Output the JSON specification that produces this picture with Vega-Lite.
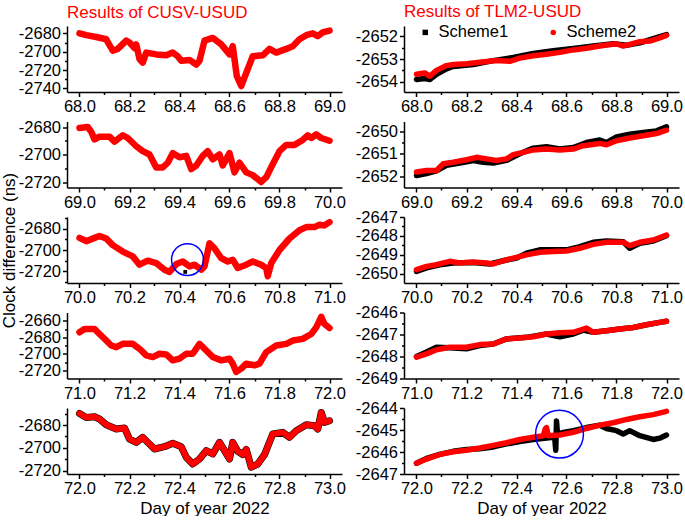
{
"$schema":"https://vega.github.io/schema/vega-lite/v6.json",
"padding":{"left":0,"top":3,"right":0,"bottom":0},
"datasets":{
"L1":[{"d":68.0,"v":-2680},{"d":68.027,"v":-2682},{"d":68.067,"v":-2684},{"d":68.107,"v":-2686.5},{"d":68.133,"v":-2699},{"d":68.153,"v":-2697},{"d":68.187,"v":-2688},{"d":68.2,"v":-2690},{"d":68.22,"v":-2696},{"d":68.227,"v":-2692},{"d":68.24,"v":-2708},{"d":68.253,"v":-2712},{"d":68.267,"v":-2701},{"d":68.307,"v":-2703},{"d":68.347,"v":-2704},{"d":68.373,"v":-2701},{"d":68.393,"v":-2705},{"d":68.407,"v":-2710},{"d":68.44,"v":-2709},{"d":68.467,"v":-2714},{"d":68.48,"v":-2710},{"d":68.5,"v":-2688},{"d":68.533,"v":-2685},{"d":68.567,"v":-2692},{"d":68.6,"v":-2703},{"d":68.613,"v":-2694},{"d":68.629,"v":-2726.5},{"d":68.647,"v":-2737.5},{"d":68.66,"v":-2728},{"d":68.693,"v":-2705},{"d":68.733,"v":-2704},{"d":68.76,"v":-2697},{"d":68.787,"v":-2701},{"d":68.827,"v":-2697},{"d":68.853,"v":-2694},{"d":68.88,"v":-2686.5},{"d":68.907,"v":-2682},{"d":68.933,"v":-2680},{"d":68.953,"v":-2683},{"d":68.973,"v":-2679},{"d":69.0,"v":-2677}],
"L2":[{"d":69.0,"v":-2680.7},{"d":69.033,"v":-2680},{"d":69.047,"v":-2683.5},{"d":69.06,"v":-2689},{"d":69.08,"v":-2687},{"d":69.12,"v":-2687},{"d":69.14,"v":-2690.6},{"d":69.173,"v":-2686},{"d":69.193,"v":-2688},{"d":69.227,"v":-2694},{"d":69.253,"v":-2697.6},{"d":69.28,"v":-2700},{"d":69.307,"v":-2709.4},{"d":69.333,"v":-2709.4},{"d":69.353,"v":-2706},{"d":69.373,"v":-2699},{"d":69.4,"v":-2702},{"d":69.427,"v":-2701},{"d":69.447,"v":-2710.6},{"d":69.467,"v":-2708},{"d":69.493,"v":-2701},{"d":69.513,"v":-2697.6},{"d":69.533,"v":-2703.5},{"d":69.56,"v":-2700},{"d":69.573,"v":-2708},{"d":69.6,"v":-2699},{"d":69.62,"v":-2713},{"d":69.64,"v":-2706},{"d":69.667,"v":-2713},{"d":69.693,"v":-2715},{"d":69.727,"v":-2720},{"d":69.747,"v":-2716.5},{"d":69.773,"v":-2707},{"d":69.8,"v":-2697.6},{"d":69.827,"v":-2693},{"d":69.86,"v":-2693},{"d":69.893,"v":-2689.4},{"d":69.913,"v":-2686},{"d":69.927,"v":-2688},{"d":69.947,"v":-2685.4},{"d":69.967,"v":-2688},{"d":70.0,"v":-2690}],
"L3":[{"d":70.0,"v":-2688.6},{"d":70.027,"v":-2691.7},{"d":70.06,"v":-2688.6},{"d":70.08,"v":-2686.8},{"d":70.107,"v":-2689.2},{"d":70.133,"v":-2695.4},{"d":70.173,"v":-2701.5},{"d":70.213,"v":-2706},{"d":70.24,"v":-2713.8},{"d":70.273,"v":-2710},{"d":70.307,"v":-2712.3},{"d":70.34,"v":-2718.5},{"d":70.36,"v":-2720.6},{"d":70.387,"v":-2713.2},{"d":70.413,"v":-2710.8},{"d":70.44,"v":-2715.4},{"d":70.46,"v":-2713.8},{"d":70.487,"v":-2718.5},{"d":70.5,"v":-2715.4},{"d":70.52,"v":-2693.8},{"d":70.54,"v":-2698.5},{"d":70.567,"v":-2707.7},{"d":70.593,"v":-2710.8},{"d":70.613,"v":-2709.2},{"d":70.633,"v":-2716.9},{"d":70.667,"v":-2713.8},{"d":70.693,"v":-2710.8},{"d":70.727,"v":-2713.8},{"d":70.747,"v":-2717},{"d":70.753,"v":-2724.6},{"d":70.767,"v":-2712.3},{"d":70.8,"v":-2700},{"d":70.84,"v":-2689.2},{"d":70.88,"v":-2681.5},{"d":70.907,"v":-2678.5},{"d":70.94,"v":-2678.5},{"d":70.96,"v":-2676.3},{"d":70.98,"v":-2676.9},{"d":71.0,"v":-2673.8}],
"L4":[{"d":71.0,"v":-2674},{"d":71.02,"v":-2670},{"d":71.06,"v":-2670},{"d":71.08,"v":-2676},{"d":71.107,"v":-2684},{"d":71.127,"v":-2690},{"d":71.147,"v":-2692},{"d":71.173,"v":-2688},{"d":71.213,"v":-2688},{"d":71.24,"v":-2694},{"d":71.267,"v":-2702},{"d":71.293,"v":-2704},{"d":71.32,"v":-2700},{"d":71.347,"v":-2700.8},{"d":71.373,"v":-2708},{"d":71.4,"v":-2706},{"d":71.427,"v":-2700},{"d":71.453,"v":-2700},{"d":71.48,"v":-2688},{"d":71.5,"v":-2694},{"d":71.533,"v":-2704},{"d":71.567,"v":-2708},{"d":71.6,"v":-2706},{"d":71.613,"v":-2712},{"d":71.627,"v":-2722},{"d":71.647,"v":-2718},{"d":71.667,"v":-2712},{"d":71.7,"v":-2714},{"d":71.72,"v":-2712},{"d":71.747,"v":-2698},{"d":71.787,"v":-2690},{"d":71.827,"v":-2688},{"d":71.853,"v":-2684},{"d":71.893,"v":-2682},{"d":71.927,"v":-2676},{"d":71.947,"v":-2668},{"d":71.967,"v":-2655.2},{"d":71.98,"v":-2664},{"d":72.0,"v":-2668.8}],
"L5":[{"d":72.0,"v":-2669.8},{"d":72.027,"v":-2673.3},{"d":72.06,"v":-2672.7},{"d":72.08,"v":-2674.7},{"d":72.107,"v":-2679.7},{"d":72.147,"v":-2683.5},{"d":72.18,"v":-2682.6},{"d":72.2,"v":-2692.3},{"d":72.227,"v":-2695.2},{"d":72.253,"v":-2690.8},{"d":72.273,"v":-2695.2},{"d":72.3,"v":-2701},{"d":72.34,"v":-2699},{"d":72.373,"v":-2696},{"d":72.407,"v":-2699},{"d":72.427,"v":-2708.3},{"d":72.453,"v":-2714.2},{"d":72.48,"v":-2709.8},{"d":72.507,"v":-2702.5},{"d":72.533,"v":-2705.4},{"d":72.56,"v":-2695.2},{"d":72.58,"v":-2702.5},{"d":72.6,"v":-2709.8},{"d":72.613,"v":-2695.2},{"d":72.633,"v":-2703},{"d":72.653,"v":-2705.9},{"d":72.667,"v":-2701.5},{"d":72.687,"v":-2717},{"d":72.713,"v":-2714.2},{"d":72.74,"v":-2706},{"d":72.773,"v":-2687.9},{"d":72.813,"v":-2686.4},{"d":72.84,"v":-2690.8},{"d":72.867,"v":-2685},{"d":72.907,"v":-2679.7},{"d":72.94,"v":-2680.6},{"d":72.953,"v":-2683.5},{"d":72.967,"v":-2668.9},{"d":72.98,"v":-2677.7},{"d":73.0,"v":-2676.2}],
"R1":[{"s":"Scheme1","d":68.0,"v":-2653.9},{"s":"Scheme1","d":68.033,"v":-2653.86},{"s":"Scheme1","d":68.053,"v":-2653.9},{"s":"Scheme1","d":68.08,"v":-2653.67},{"s":"Scheme1","d":68.12,"v":-2653.43},{"s":"Scheme1","d":68.147,"v":-2653.33},{"s":"Scheme1","d":68.227,"v":-2653.24},{"s":"Scheme1","d":68.307,"v":-2653.07},{"s":"Scheme1","d":68.387,"v":-2652.93},{"s":"Scheme1","d":68.467,"v":-2652.76},{"s":"Scheme1","d":68.547,"v":-2652.64},{"s":"Scheme1","d":68.627,"v":-2652.54},{"s":"Scheme1","d":68.707,"v":-2652.43},{"s":"Scheme1","d":68.787,"v":-2652.33},{"s":"Scheme1","d":68.84,"v":-2652.4},{"s":"Scheme1","d":68.893,"v":-2652.29},{"s":"Scheme1","d":68.947,"v":-2652.11},{"s":"Scheme1","d":69.0,"v":-2651.93},
{"s":"Scheme2","d":68.0,"v":-2653.67},{"s":"Scheme2","d":68.033,"v":-2653.61},{"s":"Scheme2","d":68.053,"v":-2653.76},{"s":"Scheme2","d":68.08,"v":-2653.5},{"s":"Scheme2","d":68.12,"v":-2653.29},{"s":"Scheme2","d":68.147,"v":-2653.24},{"s":"Scheme2","d":68.2,"v":-2653.21},{"s":"Scheme2","d":68.253,"v":-2653.14},{"s":"Scheme2","d":68.32,"v":-2653.07},{"s":"Scheme2","d":68.373,"v":-2653.1},{"s":"Scheme2","d":68.413,"v":-2652.96},{"s":"Scheme2","d":68.467,"v":-2652.86},{"s":"Scheme2","d":68.52,"v":-2652.79},{"s":"Scheme2","d":68.573,"v":-2652.71},{"s":"Scheme2","d":68.627,"v":-2652.6},{"s":"Scheme2","d":68.68,"v":-2652.53},{"s":"Scheme2","d":68.733,"v":-2652.43},{"s":"Scheme2","d":68.8,"v":-2652.33},{"s":"Scheme2","d":68.827,"v":-2652.43},{"s":"Scheme2","d":68.853,"v":-2652.36},{"s":"Scheme2","d":68.893,"v":-2652.24},{"s":"Scheme2","d":68.933,"v":-2652.21},{"s":"Scheme2","d":68.973,"v":-2652.07},{"s":"Scheme2","d":69.0,"v":-2651.96}],
"R2":[{"s":"Scheme1","d":69.0,"v":-2651.96},{"s":"Scheme1","d":69.04,"v":-2651.88},{"s":"Scheme1","d":69.08,"v":-2651.76},{"s":"Scheme1","d":69.12,"v":-2651.51},{"s":"Scheme1","d":69.173,"v":-2651.41},{"s":"Scheme1","d":69.227,"v":-2651.29},{"s":"Scheme1","d":69.267,"v":-2651.37},{"s":"Scheme1","d":69.307,"v":-2651.41},{"s":"Scheme1","d":69.36,"v":-2651.29},{"s":"Scheme1","d":69.413,"v":-2650.99},{"s":"Scheme1","d":69.467,"v":-2650.74},{"s":"Scheme1","d":69.52,"v":-2650.68},{"s":"Scheme1","d":69.573,"v":-2650.78},{"s":"Scheme1","d":69.627,"v":-2650.71},{"s":"Scheme1","d":69.68,"v":-2650.49},{"s":"Scheme1","d":69.733,"v":-2650.38},{"s":"Scheme1","d":69.76,"v":-2650.49},{"s":"Scheme1","d":69.8,"v":-2650.24},{"s":"Scheme1","d":69.853,"v":-2650.12},{"s":"Scheme1","d":69.907,"v":-2650.04},{"s":"Scheme1","d":69.96,"v":-2649.97},{"s":"Scheme1","d":70.0,"v":-2649.79},
{"s":"Scheme2","d":69.0,"v":-2651.81},{"s":"Scheme2","d":69.04,"v":-2651.74},{"s":"Scheme2","d":69.08,"v":-2651.74},{"s":"Scheme2","d":69.107,"v":-2651.44},{"s":"Scheme2","d":69.147,"v":-2651.37},{"s":"Scheme2","d":69.2,"v":-2651.26},{"s":"Scheme2","d":69.24,"v":-2651.15},{"s":"Scheme2","d":69.28,"v":-2651.22},{"s":"Scheme2","d":69.32,"v":-2651.29},{"s":"Scheme2","d":69.36,"v":-2651.22},{"s":"Scheme2","d":69.387,"v":-2651.03},{"s":"Scheme2","d":69.427,"v":-2650.93},{"s":"Scheme2","d":69.467,"v":-2650.82},{"s":"Scheme2","d":69.52,"v":-2650.78},{"s":"Scheme2","d":69.573,"v":-2650.82},{"s":"Scheme2","d":69.627,"v":-2650.78},{"s":"Scheme2","d":69.667,"v":-2650.63},{"s":"Scheme2","d":69.733,"v":-2650.53},{"s":"Scheme2","d":69.76,"v":-2650.59},{"s":"Scheme2","d":69.8,"v":-2650.41},{"s":"Scheme2","d":69.853,"v":-2650.29},{"s":"Scheme2","d":69.907,"v":-2650.19},{"s":"Scheme2","d":69.96,"v":-2650.09},{"s":"Scheme2","d":70.0,"v":-2649.94}],
"R3":[{"s":"Scheme1","d":70.0,"v":-2649.88},{"s":"Scheme1","d":70.04,"v":-2649.7},{"s":"Scheme1","d":70.093,"v":-2649.53},{"s":"Scheme1","d":70.147,"v":-2649.44},{"s":"Scheme1","d":70.227,"v":-2649.41},{"s":"Scheme1","d":70.293,"v":-2649.49},{"s":"Scheme1","d":70.347,"v":-2649.32},{"s":"Scheme1","d":70.4,"v":-2649.18},{"s":"Scheme1","d":70.44,"v":-2648.92},{"s":"Scheme1","d":70.493,"v":-2648.74},{"s":"Scheme1","d":70.547,"v":-2648.74},{"s":"Scheme1","d":70.6,"v":-2648.74},{"s":"Scheme1","d":70.653,"v":-2648.57},{"s":"Scheme1","d":70.707,"v":-2648.34},{"s":"Scheme1","d":70.76,"v":-2648.27},{"s":"Scheme1","d":70.827,"v":-2648.31},{"s":"Scheme1","d":70.853,"v":-2648.66},{"s":"Scheme1","d":70.893,"v":-2648.4},{"s":"Scheme1","d":70.947,"v":-2648.27},{"s":"Scheme1","d":71.0,"v":-2647.99},
{"s":"Scheme2","d":70.0,"v":-2649.79},{"s":"Scheme2","d":70.04,"v":-2649.62},{"s":"Scheme2","d":70.08,"v":-2649.53},{"s":"Scheme2","d":70.133,"v":-2649.35},{"s":"Scheme2","d":70.173,"v":-2649.44},{"s":"Scheme2","d":70.227,"v":-2649.39},{"s":"Scheme2","d":70.28,"v":-2649.44},{"s":"Scheme2","d":70.307,"v":-2649.49},{"s":"Scheme2","d":70.347,"v":-2649.32},{"s":"Scheme2","d":70.387,"v":-2649.18},{"s":"Scheme2","d":70.44,"v":-2649.01},{"s":"Scheme2","d":70.493,"v":-2648.87},{"s":"Scheme2","d":70.547,"v":-2648.83},{"s":"Scheme2","d":70.6,"v":-2648.8},{"s":"Scheme2","d":70.653,"v":-2648.66},{"s":"Scheme2","d":70.707,"v":-2648.45},{"s":"Scheme2","d":70.76,"v":-2648.34},{"s":"Scheme2","d":70.827,"v":-2648.34},{"s":"Scheme2","d":70.853,"v":-2648.52},{"s":"Scheme2","d":70.893,"v":-2648.34},{"s":"Scheme2","d":70.947,"v":-2648.22},{"s":"Scheme2","d":71.0,"v":-2647.96}],
"R4":[{"s":"Scheme1","d":71.0,"v":-2648.0},{"s":"Scheme1","d":71.04,"v":-2647.8},{"s":"Scheme1","d":71.08,"v":-2647.58},{"s":"Scheme1","d":71.133,"v":-2647.6},{"s":"Scheme1","d":71.2,"v":-2647.65},{"s":"Scheme1","d":71.253,"v":-2647.5},{"s":"Scheme1","d":71.307,"v":-2647.43},{"s":"Scheme1","d":71.36,"v":-2647.2},{"s":"Scheme1","d":71.44,"v":-2647.13},{"s":"Scheme1","d":71.52,"v":-2646.98},{"s":"Scheme1","d":71.573,"v":-2647.1},{"s":"Scheme1","d":71.627,"v":-2646.98},{"s":"Scheme1","d":71.667,"v":-2646.8},{"s":"Scheme1","d":71.707,"v":-2646.9},{"s":"Scheme1","d":71.76,"v":-2646.83},{"s":"Scheme1","d":71.813,"v":-2646.75},{"s":"Scheme1","d":71.867,"v":-2646.68},{"s":"Scheme1","d":71.92,"v":-2646.56},{"s":"Scheme1","d":71.973,"v":-2646.45},{"s":"Scheme1","d":72.0,"v":-2646.4},
{"s":"Scheme2","d":71.0,"v":-2648.03},{"s":"Scheme2","d":71.04,"v":-2647.88},{"s":"Scheme2","d":71.08,"v":-2647.69},{"s":"Scheme2","d":71.133,"v":-2647.58},{"s":"Scheme2","d":71.2,"v":-2647.58},{"s":"Scheme2","d":71.253,"v":-2647.46},{"s":"Scheme2","d":71.307,"v":-2647.43},{"s":"Scheme2","d":71.36,"v":-2647.2},{"s":"Scheme2","d":71.413,"v":-2647.16},{"s":"Scheme2","d":71.467,"v":-2647.1},{"s":"Scheme2","d":71.52,"v":-2646.98},{"s":"Scheme2","d":71.573,"v":-2646.92},{"s":"Scheme2","d":71.627,"v":-2646.9},{"s":"Scheme2","d":71.68,"v":-2646.71},{"s":"Scheme2","d":71.707,"v":-2646.9},{"s":"Scheme2","d":71.76,"v":-2646.83},{"s":"Scheme2","d":71.813,"v":-2646.75},{"s":"Scheme2","d":71.867,"v":-2646.68},{"s":"Scheme2","d":71.92,"v":-2646.56},{"s":"Scheme2","d":71.973,"v":-2646.45},{"s":"Scheme2","d":72.0,"v":-2646.4}],
"R5":[{"s":"Scheme1","d":72.0,"v":-2646.51},{"s":"Scheme1","d":72.04,"v":-2646.29},{"s":"Scheme1","d":72.093,"v":-2646.11},{"s":"Scheme1","d":72.147,"v":-2645.97},{"s":"Scheme1","d":72.2,"v":-2645.89},{"s":"Scheme1","d":72.253,"v":-2645.85},{"s":"Scheme1","d":72.307,"v":-2645.77},{"s":"Scheme1","d":72.36,"v":-2645.63},{"s":"Scheme1","d":72.413,"v":-2645.52},{"s":"Scheme1","d":72.467,"v":-2645.43},{"s":"Scheme1","d":72.547,"v":-2645.33},{"s":"Scheme1","d":72.553,"v":-2645.38},{"s":"Scheme1","d":72.557,"v":-2645.92},{"s":"Scheme1","d":72.56,"v":-2644.59},{"s":"Scheme1","d":72.564,"v":-2645.2},{"s":"Scheme1","d":72.587,"v":-2645.11},{"s":"Scheme1","d":72.627,"v":-2645.03},{"s":"Scheme1","d":72.68,"v":-2644.89},{"s":"Scheme1","d":72.733,"v":-2644.78},{"s":"Scheme1","d":72.76,"v":-2644.93},{"s":"Scheme1","d":72.8,"v":-2645.03},{"s":"Scheme1","d":72.827,"v":-2645.18},{"s":"Scheme1","d":72.853,"v":-2645.03},{"s":"Scheme1","d":72.893,"v":-2645.26},{"s":"Scheme1","d":72.947,"v":-2645.43},{"s":"Scheme1","d":72.973,"v":-2645.37},{"s":"Scheme1","d":73.0,"v":-2645.23},
{"s":"Scheme2","d":72.0,"v":-2646.51},{"s":"Scheme2","d":72.04,"v":-2646.32},{"s":"Scheme2","d":72.093,"v":-2646.11},{"s":"Scheme2","d":72.147,"v":-2645.99},{"s":"Scheme2","d":72.2,"v":-2645.92},{"s":"Scheme2","d":72.253,"v":-2645.82},{"s":"Scheme2","d":72.307,"v":-2645.7},{"s":"Scheme2","d":72.36,"v":-2645.58},{"s":"Scheme2","d":72.413,"v":-2645.43},{"s":"Scheme2","d":72.467,"v":-2645.33},{"s":"Scheme2","d":72.507,"v":-2645.26},{"s":"Scheme2","d":72.515,"v":-2644.95},{"s":"Scheme2","d":72.52,"v":-2644.89},{"s":"Scheme2","d":72.527,"v":-2645.26},{"s":"Scheme2","d":72.573,"v":-2645.23},{"s":"Scheme2","d":72.627,"v":-2645.11},{"s":"Scheme2","d":72.68,"v":-2644.93},{"s":"Scheme2","d":72.733,"v":-2644.78},{"s":"Scheme2","d":72.787,"v":-2644.67},{"s":"Scheme2","d":72.84,"v":-2644.52},{"s":"Scheme2","d":72.893,"v":-2644.4},{"s":"Scheme2","d":72.947,"v":-2644.3},{"s":"Scheme2","d":73.0,"v":-2644.15}]
},
"resolve":{"scale":{"color":"independent"},"legend":{"color":"independent"}},
"bounds":"flush",
"columns":2,
"spacing":{"row":29.5,"column":62},
"concat":[
 {"width":275,"height":66,"data":{"name":"L1"},
  "title":{"text":"Results of CUSV-USUD"},
  "encoding":{
   "x":{"field":"d","type":"quantitative","scale":{"domain":[67.95,69.05],"nice":false,"zero":false},"axis":{"title":null,"values":[68,68.1,68.2,68.3,68.4,68.5,68.6,68.7,68.8,68.9,69],"labelExpr":"round(datum.value*10)%2==0?format(datum.value,'.1f'):''","tickSize":{"condition":{"test":"round(datum.value*10)%2!=0","value":2.5},"value":4.5}}},
   "y":{"field":"v","type":"quantitative","scale":{"domain":[-2744,-2672],"nice":false,"zero":false},"axis":{"title":null,"values":[-2740,-2730,-2720,-2710,-2700,-2690,-2680],"labelExpr":"datum.value%20==0?datum.value+'':''","tickSize":{"condition":{"test":"datum.value%20!=0","value":2.5},"value":4.5}}}},
  "layer":[{"mark":{"type":"line","color":"#ff0000","strokeWidth":6.5,"strokeCap":"round","strokeJoin":"round"}}]},
 {"width":275,"height":66,"data":{"name":"R1"},
  "title":{"text":"Results of TLM2-USUD"},
  "encoding":{
   "x":{"field":"d","type":"quantitative","scale":{"domain":[67.95,69.05],"nice":false,"zero":false},"axis":{"title":null,"values":[68,68.1,68.2,68.3,68.4,68.5,68.6,68.7,68.8,68.9,69],"labelExpr":"round(datum.value*10)%2==0?format(datum.value,'.1f'):''","tickSize":{"condition":{"test":"round(datum.value*10)%2!=0","value":2.5},"value":4.5}}},
   "y":{"field":"v","type":"quantitative","scale":{"domain":[-2654.45,-2651.55],"nice":false,"zero":false},"axis":{"title":null,"values":[-2654,-2653.5,-2653,-2652.5,-2652],"labelExpr":"datum.value%1==0?datum.value+'':''","tickSize":{"condition":{"test":"datum.value%1!=0","value":2.5},"value":4.5}}},
   "color":{"field":"s","type":"nominal","scale":{"domain":["Scheme1","Scheme2"],"range":["black","#ff0000"]},
     "legend":{"title":null,"orient":"none","legendX":13,"legendY":-2,"direction":"horizontal","padding":0,"columnPadding":36,"labelOffset":5,"labelFontSize":16.5,"labelFont":"Liberation Sans","labelColor":"black","symbolSize":30,
       "encode":{"symbols":{"update":{"shape":{"signal":"datum.value=='Scheme1'?'square':'circle'"},"fill":{"signal":"datum.value=='Scheme1'?'black':'#ff0000'"},"stroke":{"signal":"datum.value=='Scheme1'?'black':'#ff0000'"},"strokeWidth":{"value":0}}}}}}},
  "layer":[
   {"transform":[{"filter":"datum.s=='Scheme1'"}],"mark":{"type":"line","strokeWidth":5.5,"strokeCap":"round","strokeJoin":"round"}},
   {"transform":[{"filter":"datum.s=='Scheme2'"}],"mark":{"type":"line","strokeWidth":5.5,"strokeCap":"round","strokeJoin":"round"}}]},
 {"width":275,"height":66,"data":{"name":"L2"},
  "encoding":{
   "x":{"field":"d","type":"quantitative","scale":{"domain":[68.95,70.05],"nice":false,"zero":false},"axis":{"title":null,"values":[69,69.1,69.2,69.3,69.4,69.5,69.6,69.7,69.8,69.9,70],"labelExpr":"round(datum.value*10)%2==0?format(datum.value,'.1f'):''","tickSize":{"condition":{"test":"round(datum.value*10)%2!=0","value":2.5},"value":4.5}}},
   "y":{"field":"v","type":"quantitative","scale":{"domain":[-2724,-2676],"nice":false,"zero":false},"axis":{"title":null,"values":[-2720,-2710,-2700,-2690,-2680],"labelExpr":"datum.value%20==0?datum.value+'':''","tickSize":{"condition":{"test":"datum.value%20!=0","value":2.5},"value":4.5}}}},
  "layer":[{"mark":{"type":"line","color":"#ff0000","strokeWidth":6.5,"strokeCap":"round","strokeJoin":"round"}}]},
 {"width":275,"height":66,"data":{"name":"R2"},
  "encoding":{
   "x":{"field":"d","type":"quantitative","scale":{"domain":[68.95,70.05],"nice":false,"zero":false},"axis":{"title":null,"values":[69,69.1,69.2,69.3,69.4,69.5,69.6,69.7,69.8,69.9,70],"labelExpr":"round(datum.value*10)%2==0?format(datum.value,'.1f'):''","tickSize":{"condition":{"test":"round(datum.value*10)%2!=0","value":2.5},"value":4.5}}},
   "y":{"field":"v","type":"quantitative","scale":{"domain":[-2652.5,-2649.55],"nice":false,"zero":false},"axis":{"title":null,"values":[-2652,-2651.5,-2651,-2650.5,-2650],"labelExpr":"datum.value%1==0?datum.value+'':''","tickSize":{"condition":{"test":"datum.value%1!=0","value":2.5},"value":4.5}}},
   "color":{"field":"s","type":"nominal","scale":{"domain":["Scheme1","Scheme2"],"range":["black","#ff0000"]},"legend":null}},
  "layer":[
   {"transform":[{"filter":"datum.s=='Scheme1'"}],"mark":{"type":"line","strokeWidth":5.5,"strokeCap":"round","strokeJoin":"round"}},
   {"transform":[{"filter":"datum.s=='Scheme2'"}],"mark":{"type":"line","strokeWidth":5.5,"strokeCap":"round","strokeJoin":"round"}}]},
 {"width":275,"height":66,"data":{"name":"L3"},
  "encoding":{
   "x":{"field":"d","type":"quantitative","scale":{"domain":[69.95,71.05],"nice":false,"zero":false},"axis":{"title":null,"values":[70,70.1,70.2,70.3,70.4,70.5,70.6,70.7,70.8,70.9,71],"labelExpr":"round(datum.value*10)%2==0?format(datum.value,'.1f'):''","tickSize":{"condition":{"test":"round(datum.value*10)%2!=0","value":2.5},"value":4.5}}},
   "y":{"field":"v","type":"quantitative","scale":{"domain":[-2731,-2669],"nice":false,"zero":false},"axis":{"title":"Clock difference (ns)","titlePadding":0,"values":[-2730,-2720,-2710,-2700,-2690,-2680,-2670],"labelExpr":"datum.value%20==0?datum.value+'':''","tickSize":{"condition":{"test":"datum.value%20!=0","value":2.5},"value":4.5}}}},
  "layer":[
   {"mark":{"type":"line","color":"#ff0000","strokeWidth":6.5,"strokeCap":"round","strokeJoin":"round"}},
   {"data":{"values":[{"d":70.423,"v":-2720.6}]},"mark":{"type":"point","shape":"square","filled":true,"color":"black","size":14,"opacity":1}},
   {"data":{"values":[{"d":70.432,"v":-2709}]},"mark":{"type":"point","shape":"circle","filled":false,"color":"#0000ff","strokeWidth":1.5,"size":1018,"opacity":1}}
  ]},
 {"width":275,"height":66,"data":{"name":"R3"},
  "encoding":{
   "x":{"field":"d","type":"quantitative","scale":{"domain":[69.95,71.05],"nice":false,"zero":false},"axis":{"title":null,"values":[70,70.1,70.2,70.3,70.4,70.5,70.6,70.7,70.8,70.9,71],"labelExpr":"round(datum.value*10)%2==0?format(datum.value,'.1f'):''","tickSize":{"condition":{"test":"round(datum.value*10)%2!=0","value":2.5},"value":4.5}}},
   "y":{"field":"v","type":"quantitative","scale":{"domain":[-2650.5,-2647],"nice":false,"zero":false},"axis":{"title":null,"values":[-2650,-2649.5,-2649,-2648.5,-2648,-2647.5,-2647],"labelExpr":"datum.value%1==0?datum.value+'':''","tickSize":{"condition":{"test":"datum.value%1!=0","value":2.5},"value":4.5}}},
   "color":{"field":"s","type":"nominal","scale":{"domain":["Scheme1","Scheme2"],"range":["black","#ff0000"]},"legend":null}},
  "layer":[
   {"transform":[{"filter":"datum.s=='Scheme1'"}],"mark":{"type":"line","strokeWidth":5.5,"strokeCap":"round","strokeJoin":"round"}},
   {"transform":[{"filter":"datum.s=='Scheme2'"}],"mark":{"type":"line","strokeWidth":5.5,"strokeCap":"round","strokeJoin":"round"}}]},
 {"width":275,"height":66,"data":{"name":"L4"},
  "encoding":{
   "x":{"field":"d","type":"quantitative","scale":{"domain":[70.95,72.05],"nice":false,"zero":false},"axis":{"title":null,"values":[71,71.1,71.2,71.3,71.4,71.5,71.6,71.7,71.8,71.9,72],"labelExpr":"round(datum.value*10)%2==0?format(datum.value,'.1f'):''","tickSize":{"condition":{"test":"round(datum.value*10)%2!=0","value":2.5},"value":4.5}}},
   "y":{"field":"v","type":"quantitative","scale":{"domain":[-2730,-2650],"nice":false,"zero":false},"axis":{"title":null,"values":[-2720,-2710,-2700,-2690,-2680,-2670,-2660],"labelExpr":"datum.value%20==0?datum.value+'':''","tickSize":{"condition":{"test":"datum.value%20!=0","value":2.5},"value":4.5}}}},
  "layer":[{"mark":{"type":"line","color":"#ff0000","strokeWidth":6.5,"strokeCap":"round","strokeJoin":"round"}}]},
 {"width":275,"height":66,"data":{"name":"R4"},
  "encoding":{
   "x":{"field":"d","type":"quantitative","scale":{"domain":[70.95,72.05],"nice":false,"zero":false},"axis":{"title":null,"values":[71,71.1,71.2,71.3,71.4,71.5,71.6,71.7,71.8,71.9,72],"labelExpr":"round(datum.value*10)%2==0?format(datum.value,'.1f'):''","tickSize":{"condition":{"test":"round(datum.value*10)%2!=0","value":2.5},"value":4.5}}},
   "y":{"field":"v","type":"quantitative","scale":{"domain":[-2649,-2646],"nice":false,"zero":false},"axis":{"title":null,"values":[-2649,-2648.5,-2648,-2647.5,-2647,-2646.5,-2646],"labelExpr":"datum.value%1==0?datum.value+'':''","tickSize":{"condition":{"test":"datum.value%1!=0","value":2.5},"value":4.5}}},
   "color":{"field":"s","type":"nominal","scale":{"domain":["Scheme1","Scheme2"],"range":["black","#ff0000"]},"legend":null}},
  "layer":[
   {"transform":[{"filter":"datum.s=='Scheme1'"}],"mark":{"type":"line","strokeWidth":5.5,"strokeCap":"round","strokeJoin":"round"}},
   {"transform":[{"filter":"datum.s=='Scheme2'"}],"mark":{"type":"line","strokeWidth":5.5,"strokeCap":"round","strokeJoin":"round"}}]},
 {"width":275,"height":66,"data":{"name":"L5"},
  "encoding":{
   "x":{"field":"d","type":"quantitative","scale":{"domain":[71.95,73.05],"nice":false,"zero":false},"axis":{"title":"Day of year 2022","values":[72,72.1,72.2,72.3,72.4,72.5,72.6,72.7,72.8,72.9,73],"labelExpr":"round(datum.value*10)%2==0?format(datum.value,'.1f'):''","tickSize":{"condition":{"test":"round(datum.value*10)%2!=0","value":2.5},"value":4.5}}},
   "y":{"field":"v","type":"quantitative","scale":{"domain":[-2723,-2665],"nice":false,"zero":false},"axis":{"title":null,"values":[-2720,-2710,-2700,-2690,-2680,-2670],"labelExpr":"datum.value%20==0?datum.value+'':''","tickSize":{"condition":{"test":"datum.value%20!=0","value":2.5},"value":4.5}}}},
  "layer":[
   {"mark":{"type":"line","color":"black","strokeWidth":7,"strokeCap":"round","strokeJoin":"round"}},
   {"mark":{"type":"line","color":"#ff0000","strokeWidth":6,"strokeCap":"round","strokeJoin":"round"}}]},
 {"width":275,"height":66,"data":{"name":"R5"},
  "encoding":{
   "x":{"field":"d","type":"quantitative","scale":{"domain":[71.95,73.05],"nice":false,"zero":false},"axis":{"title":"Day of year 2022","values":[72,72.1,72.2,72.3,72.4,72.5,72.6,72.7,72.8,72.9,73],"labelExpr":"round(datum.value*10)%2==0?format(datum.value,'.1f'):''","tickSize":{"condition":{"test":"round(datum.value*10)%2!=0","value":2.5},"value":4.5}}},
   "y":{"field":"v","type":"quantitative","scale":{"domain":[-2647,-2644],"nice":false,"zero":false},"axis":{"title":null,"values":[-2647,-2646.5,-2646,-2645.5,-2645,-2644.5,-2644],"labelExpr":"datum.value%1==0?datum.value+'':''","tickSize":{"condition":{"test":"datum.value%1!=0","value":2.5},"value":4.5}}}},
  "layer":[
   {"transform":[{"filter":"datum.s=='Scheme1'"}],"mark":{"type":"line","color":"black","strokeWidth":5.5,"strokeCap":"round","strokeJoin":"round"}},
   {"transform":[{"filter":"datum.s=='Scheme2'"}],"mark":{"type":"line","color":"#ff0000","strokeWidth":5.5,"strokeCap":"round","strokeJoin":"round"}},
   {"data":{"values":[{"d":72.572,"v":-2645.19}]},"mark":{"type":"point","shape":"circle","filled":false,"color":"#0000ff","strokeWidth":1.5,"size":2290,"opacity":1}}
  ]}
],
"config":{
 "view":{"stroke":null},
 "axis":{"grid":false,"domainColor":"black","domainWidth":1.5,"tickColor":"black","tickWidth":1.5,"labelColor":"black","labelFont":"Liberation Sans","labelFontSize":16.5,"labelPadding":2,"labelOverlap":false,"labelFlush":false,"titleFont":"Liberation Sans","titleFontSize":17,"titleFontWeight":"normal","titleColor":"black","titlePadding":3},
 "title":{"color":"#ff0000","font":"Liberation Sans","fontSize":17,"fontWeight":"normal","anchor":"start","frame":"group","offset":3}
}
}
